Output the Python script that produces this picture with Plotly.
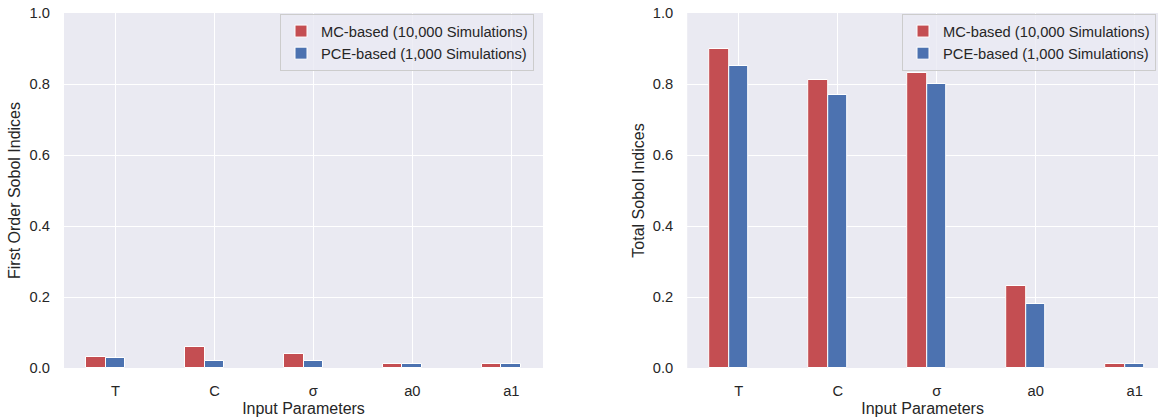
import plotly.graph_objects as go

categories = ["T", "C", "σ", "a0", "a1"]
first_mc = [0.03, 0.06, 0.04, 0.01, 0.01]
first_pce = [0.028, 0.02, 0.02, 0.01, 0.01]
total_mc = [0.90, 0.81, 0.83, 0.23, 0.01]
total_pce = [0.85, 0.77, 0.80, 0.18, 0.01]
series_names = ["MC-based (10,000 Simulations)", "PCE-based (1,000 Simulations)"]

RED = "#C44E52"
BLUE = "#4C72B0"
TXT = "#262626"
BG = "#EAEAF2"
FONT = "Liberation Sans, Arial, sans-serif"

W, H = 1158, 419
fig = go.Figure()

panels = [
    (first_mc, first_pce, "x", "y", "legend"),
    (total_mc, total_pce, "x2", "y2", "legend2"),
]
for mc, pce, xa, ya, lg in panels:
    fig.add_trace(go.Bar(x=categories, y=mc, width=0.2, offset=-0.3, name=series_names[0],
                         marker=dict(color=RED, line=dict(color="white", width=1)),
                         xaxis=xa, yaxis=ya, legend=lg))
    fig.add_trace(go.Bar(x=categories, y=pce, width=0.2, offset=-0.1, name=series_names[1],
                         marker=dict(color=BLUE, line=dict(color="white", width=1)),
                         xaxis=xa, yaxis=ya, legend=lg))

ax_common = dict(showgrid=True, gridcolor="white", gridwidth=1.3, zeroline=False,
                 showline=False, ticks="", tickfont=dict(size=14.7, color=TXT, family=FONT),
                 automargin=False)

left0, left1 = 64, 543
right0 = 687.2
leg_common = dict(y=1 - 1 / 355, yanchor="top", xanchor="right",
                  bgcolor="rgba(234,234,242,0.8)", bordercolor="#CCCCCC", borderwidth=1,
                  font=dict(size=14.7, color=TXT, family=FONT), traceorder="normal")
fig.update_layout(
    width=W, height=H,
    margin=dict(l=0, r=0, t=13, b=51),
    paper_bgcolor="white", plot_bgcolor=BG,
    font=dict(family=FONT, color=TXT),
    showlegend=True,
    bargap=0,
    xaxis=dict(domain=[left0 / W, left1 / W], type="category", range=[-0.52, 4.32],
               title=dict(text="Input Parameters", font=dict(size=16, color=TXT), standoff=5),
               ticklabelstandoff=12, **ax_common),
    yaxis=dict(domain=[0, 1], range=[0, 1], tickvals=[0, 0.2, 0.4, 0.6, 0.8, 1.0],
               tickformat=".1f",
               title=dict(text="First Order Sobol Indices", font=dict(size=16, color=TXT), standoff=4),
               ticklabelstandoff=13, **ax_common),
    xaxis2=dict(domain=[right0 / W, 1], type="category",
                range=[-0.52, -0.52 + (W - right0) / 99.0], anchor="y2",
                title=dict(text="Input Parameters", font=dict(size=16, color=TXT), standoff=5),
                ticklabelstandoff=12, **ax_common),
    yaxis2=dict(domain=[0, 1], range=[0, 1], tickvals=[0, 0.2, 0.4, 0.6, 0.8, 1.0],
                tickformat=".1f", anchor="x2",
                title=dict(text="Total Sobol Indices", font=dict(size=16, color=TXT), standoff=4),
                ticklabelstandoff=13, **ax_common),
    legend=dict(x=534 / W, **leg_common),
    legend2=dict(x=1156 / W, **leg_common),
)

fig.write_html("out.html", config={"displayModeBar": False},
               post_script="document.body.style.margin='0px';")
